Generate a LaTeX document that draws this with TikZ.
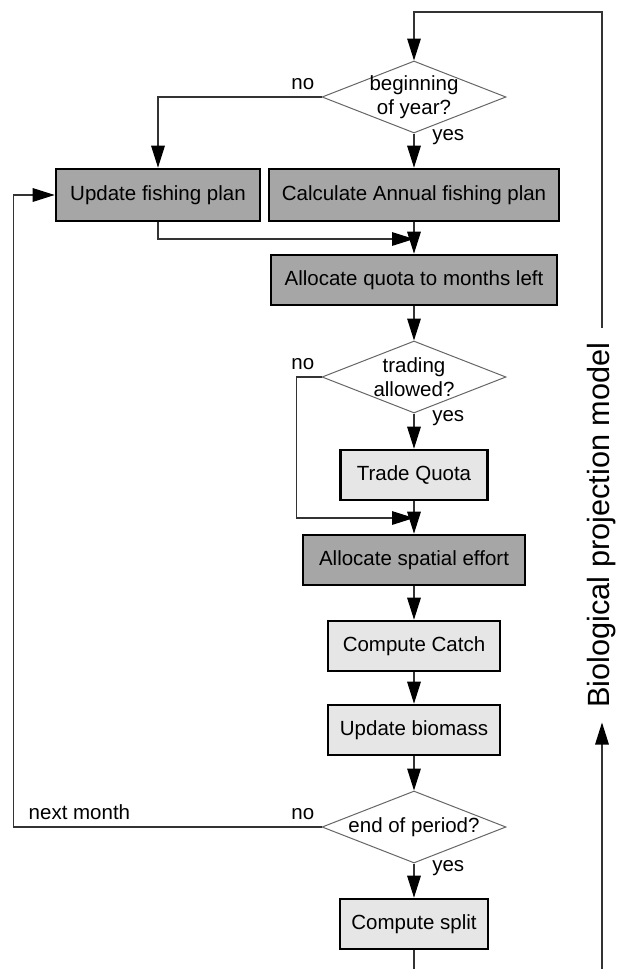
\documentclass[tikz,border=0pt]{standalone}
\usepackage{fontspec}
\setmainfont{Liberation Sans}
\usetikzlibrary{shapes.geometric,arrows.meta}
\definecolor{boxdark}{HTML}{A6A6A6}
\definecolor{boxlight}{HTML}{E6E6E6}
\definecolor{linegray}{HTML}{333333}
\begin{document}
\begin{tikzpicture}
        [x=0.5pt,y=-0.5pt,
         every node/.style={font=\fontsize{10.25}{12}\selectfont},
         darkbox/.style={draw,line width=1.3pt,fill=boxdark,minimum height=25pt,inner sep=0pt},
         lightbox/.style={draw,line width=1.3pt,fill=boxlight,minimum height=25pt,inner sep=0pt},
         decision/.style={diamond,draw=black!60,line width=0.5pt,fill=white,aspect=2.56,
                          minimum width=92pt,minimum height=36pt,inner sep=-3pt,align=center},
         arr/.style={-{Triangle[length=11pt,width=6.8pt,color=black]}},
         line/.style={draw=linegray,line width=0.6pt}]
        \useasboundingbox (0,0) rectangle (617,969);

        \node[decision] (d1) at (414,97) {beginning\\of year?};
        \node[darkbox,minimum width=102pt,minimum height=26pt] (upd) at (158,195) {Update fishing plan};
        \node[darkbox,minimum width=145pt,minimum height=26pt] (calc) at (414,195) {Calculate Annual fishing plan};
        \node[darkbox,minimum width=143pt] (aq) at (414,280) {Allocate quota to months left};
        \node[decision] (d2) at (414,377) {trading\\allowed?};
        \node[lightbox,minimum width=73.5pt] (tq) at (414,475) {Trade Quota};
        \node[darkbox,minimum width=111pt] (sp) at (414,560) {Allocate spatial effort};
        \node[lightbox,minimum width=86pt] (cc) at (414,646) {Compute Catch};
        \node[lightbox,minimum width=86pt] (ub) at (414,730) {Update biomass};
        \node[decision] (d3) at (414,827) {end of period?};
        \node[lightbox,minimum width=74pt] (cs) at (414,924) {Compute split};
        \node[rotate=90,font=\fontsize{15.35}{18}\selectfont,inner xsep=7.25pt] (bio) at (602,525) {Biological projection model};

        \coordinate (ctop) at (602,12);
        \coordinate (m1) at (414,239);
        \coordinate (m2) at (414,518);
        \coordinate (cbot) at (414,969);
        \coordinate (rbot) at (602,969);

        % main column
        \draw[line,arr] (bio.east) -- (ctop) -| (d1.north);
        \draw[line,arr] (d1.west) node[above left] {no} -| (upd.north);
        \draw[line,arr] (d1.south) -- node[pos=0.12,right=5.5pt] {yes} (calc.north);
        \draw[line,arr] (upd.south) |- (m1);
        \draw[line,arr] (calc.south) -- (aq.north);
        \draw[line,arr] (aq.south) -- (d2.north);
        \draw[line,arr] (d2.west) node[above left] {no} -- ++(-25,0) |- (m2);
        \draw[line,arr] (d2.south) -- node[pos=0.12,right=5.5pt] {yes} (tq.north);
        \draw[line,arr] (tq.south) -- (sp.north);
        \draw[line,arr] (sp.south) -- (cc.north);
        \draw[line,arr] (cc.south) -- (ub.north);
        \draw[line,arr] (ub.south) -- (d3.north);
        \draw[line,arr] (d3.south) -- node[pos=0.12,right=5.5pt] {yes} (cs.north);

        % loops
        \draw[line,arr] (d3.west) node[above left] {no}
          -- node[pos=0.786,above] {next month} ++(-308,0) |- (upd.west);
        \draw[line] (cs.south) -- (cbot);
        \draw[line,arr] (rbot) -- (bio.west);
      \end{tikzpicture}
\end{document}
